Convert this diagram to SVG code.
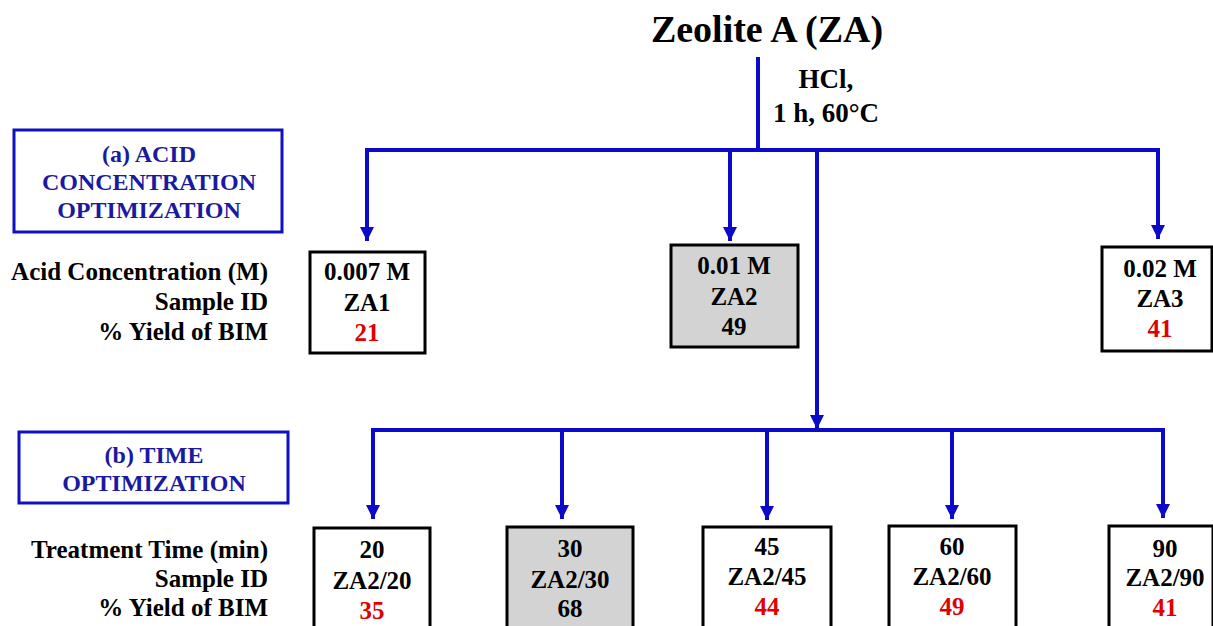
<svg xmlns="http://www.w3.org/2000/svg" width="1213" height="626" viewBox="0 0 1213 626" font-family="'Liberation Serif', 'Times New Roman', 'DejaVu Serif', serif" font-weight="bold">
<defs>
<style>
.t{font-size:38px;fill:#000;text-anchor:middle;}
.c{font-size:27px;fill:#000;text-anchor:middle;}
.sec{font-size:24px;fill:#1a1aa0;text-anchor:middle;}
.secbox{fill:#fff;stroke:#1010c0;stroke-width:3;}
.lab{font-size:25px;fill:#000;text-anchor:end;}
.bx{font-size:25px;fill:#000;text-anchor:middle;}
.red{fill:#e00000;}
.box{fill:#fff;stroke:#000;stroke-width:3;}
.sel{fill:#d3d3d3;stroke:#000;stroke-width:3;}
.ln{fill:none;stroke:#0a0ac8;stroke-width:4;}
.ar{fill:none;stroke:#0a0ac8;stroke-width:4;marker-end:url(#ah);}
</style>
<marker id="ah" markerUnits="userSpaceOnUse" markerWidth="14" markerHeight="14" viewBox="0 0 14 14" refX="14" refY="7" orient="auto">
<path d="M0,0 L14,7 L0,14 Z" fill="#0a0ac8"/>
</marker>
</defs>

<g id="title">
<text class="t" x="767" y="42">Zeolite A (ZA)</text>
</g>
<g id="condition">
<text class="c" x="826" y="88">HCl,</text>
<text class="c" x="826" y="122">1 h, 60°C</text>
</g>

<g id="connectors">
<line class="ln" x1="758" y1="57" x2="758" y2="150"/>
<polyline class="ln" points="367,150 1158,150"/>
<line class="ar" x1="367" y1="148" x2="367" y2="241"/>
<line class="ar" x1="730" y1="150" x2="730" y2="241"/>
<line class="ar" x1="1158" y1="148" x2="1158" y2="239"/>
<line class="ar" x1="817" y1="150" x2="817" y2="429"/>
<polyline class="ln" points="373,430 1163,430"/>
<line class="ar" x1="373" y1="428" x2="373" y2="519"/>
<line class="ar" x1="562" y1="430" x2="562" y2="519"/>
<line class="ar" x1="767" y1="430" x2="767" y2="520"/>
<line class="ar" x1="952" y1="430" x2="952" y2="519"/>
<line class="ar" x1="1163" y1="428" x2="1163" y2="518"/>
</g>

<g id="section-a">
<rect class="secbox" x="14" y="130" width="268" height="102"/>
<text class="sec" x="149" y="162">(a) ACID</text>
<text class="sec" x="149" y="190">CONCENTRATION</text>
<text class="sec" x="149" y="218">OPTIMIZATION</text>
</g>
<g id="labels-a">
<text class="lab" x="268" y="280">Acid Concentration (M)</text>
<text class="lab" x="268" y="310">Sample ID</text>
<text class="lab" x="268" y="340">% Yield of BIM</text>
</g>

<g id="ZA1">
<rect class="box" x="310" y="252" width="115" height="101"/>
<text class="bx" x="367" y="280">0.007 M</text>
<text class="bx" x="367" y="311">ZA1</text>
<text class="bx red" x="367" y="341">21</text>
</g>
<g id="ZA2">
<rect class="sel" x="671" y="245" width="127" height="102"/>
<text class="bx" x="734" y="274">0.01 M</text>
<text class="bx" x="734" y="305">ZA2</text>
<text class="bx" x="734" y="335">49</text>
</g>
<g id="ZA3">
<rect class="box" x="1102" y="247" width="110" height="104"/>
<text class="bx" x="1160" y="277">0.02 M</text>
<text class="bx" x="1160" y="307">ZA3</text>
<text class="bx red" x="1160" y="337">41</text>
</g>

<g id="section-b">
<rect class="secbox" x="19" y="432" width="269" height="71"/>
<text class="sec" x="154" y="463">(b) TIME</text>
<text class="sec" x="154" y="491">OPTIMIZATION</text>
</g>
<g id="labels-b">
<text class="lab" x="268" y="558">Treatment Time (min)</text>
<text class="lab" x="268" y="587">Sample ID</text>
<text class="lab" x="268" y="616">% Yield of BIM</text>
</g>

<g id="ZA2-20">
<rect class="box" x="314" y="528" width="116" height="110"/>
<text class="bx" x="372" y="558">20</text>
<text class="bx" x="372" y="589">ZA2/20</text>
<text class="bx red" x="372" y="619">35</text>
</g>
<g id="ZA2-30">
<rect class="sel" x="507" y="527" width="126" height="110"/>
<text class="bx" x="570" y="557">30</text>
<text class="bx" x="570" y="588">ZA2/30</text>
<text class="bx" x="570" y="617">68</text>
</g>
<g id="ZA2-45">
<rect class="box" x="703" y="527" width="128" height="110"/>
<text class="bx" x="767" y="555">45</text>
<text class="bx" x="767" y="585">ZA2/45</text>
<text class="bx red" x="767" y="615">44</text>
</g>
<g id="ZA2-60">
<rect class="box" x="889" y="526" width="127" height="110"/>
<text class="bx" x="952" y="555">60</text>
<text class="bx" x="952" y="585">ZA2/60</text>
<text class="bx red" x="952" y="615">49</text>
</g>
<g id="ZA2-90">
<rect class="box" x="1109" y="526" width="104" height="110"/>
<text class="bx" x="1165" y="557">90</text>
<text class="bx" x="1165" y="586">ZA2/90</text>
<text class="bx red" x="1165" y="616">41</text>
</g>
</svg>
